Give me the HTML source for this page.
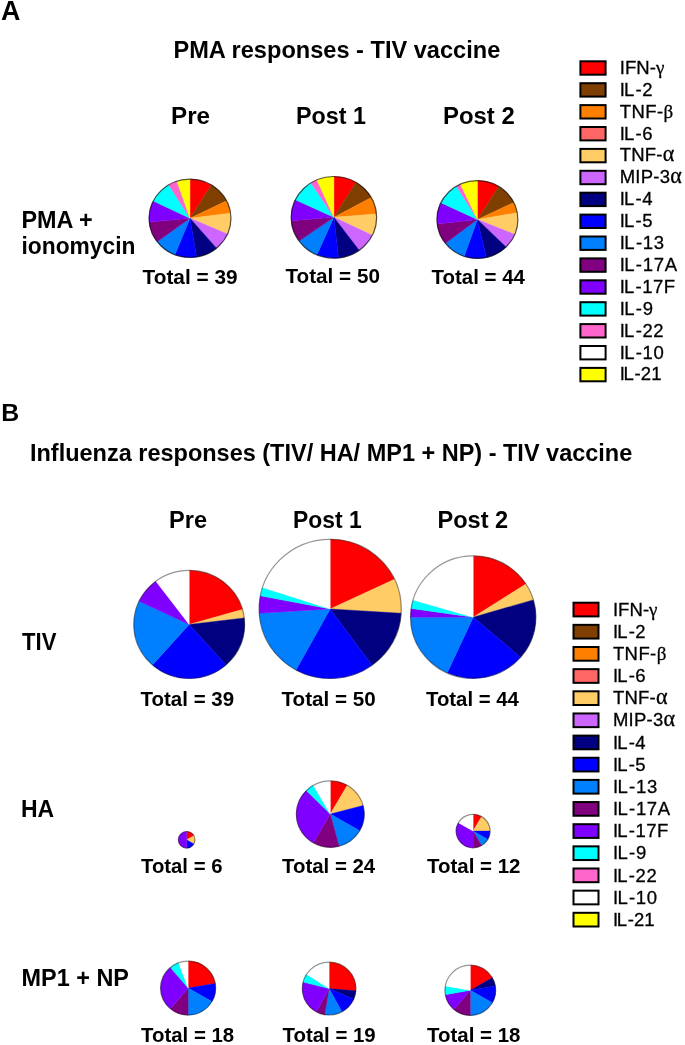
<!DOCTYPE html>
<html><head><meta charset="utf-8"><style>
html,body{margin:0;padding:0;background:#fff;}
svg{display:block;will-change:transform;}
text{font-family:"Liberation Sans",sans-serif;fill:#000;}
</style></head><body>
<svg width="685" height="1045" viewBox="0 0 685 1045">
<rect width="685" height="1045" fill="#fff"/>
<text x="1.0" y="19.8" font-size="26.8" font-weight="bold">A</text>
<text x="173.5" y="58.4" font-size="23.4" font-weight="bold" textLength="326.75" lengthAdjust="spacingAndGlyphs">PMA responses - TIV vaccine</text>
<text x="171.0" y="124.1" font-size="24.2" font-weight="bold" textLength="39.02" lengthAdjust="spacingAndGlyphs">Pre</text>
<text x="296.0" y="123.8" font-size="24.2" font-weight="bold" textLength="69.9" lengthAdjust="spacingAndGlyphs">Post 1</text>
<text x="443.0" y="123.8" font-size="24.2" font-weight="bold" textLength="71.77" lengthAdjust="spacingAndGlyphs">Post 2</text>
<text x="21.5" y="227.6" font-size="24.4" font-weight="bold" textLength="71.25" lengthAdjust="spacingAndGlyphs">PMA +</text>
<text x="21.5" y="253.5" font-size="24.4" font-weight="bold" textLength="113.91" lengthAdjust="spacingAndGlyphs">ionomycin</text>
<text x="142.5" y="283.6" font-size="20.5" font-weight="bold" textLength="95.05" lengthAdjust="spacingAndGlyphs">Total = 39</text>
<text x="285.5" y="282.8" font-size="20.5" font-weight="bold" textLength="94.44" lengthAdjust="spacingAndGlyphs">Total = 50</text>
<text x="431.5" y="283.8" font-size="20.5" font-weight="bold" textLength="93.43" lengthAdjust="spacingAndGlyphs">Total = 44</text>
<text x="1.25" y="421.0" font-size="24.8" font-weight="bold" textLength="17.95" lengthAdjust="spacingAndGlyphs">B</text>
<text x="30.0" y="461.3" font-size="24.0" font-weight="bold" textLength="602.25" lengthAdjust="spacingAndGlyphs">Influenza responses (TIV/ HA/ MP1 + NP) - TIV vaccine</text>
<text x="169.0" y="528.1" font-size="23" font-weight="bold" textLength="38.01" lengthAdjust="spacingAndGlyphs">Pre</text>
<text x="293.0" y="528.1" font-size="23" font-weight="bold" textLength="68.61" lengthAdjust="spacingAndGlyphs">Post 1</text>
<text x="437.5" y="528.1" font-size="23" font-weight="bold" textLength="70.7" lengthAdjust="spacingAndGlyphs">Post 2</text>
<text x="22.0" y="649.8" font-size="23.4" font-weight="bold" textLength="34.37" lengthAdjust="spacingAndGlyphs">TIV</text>
<text x="21.0" y="816.8" font-size="23.4" font-weight="bold" textLength="33.2" lengthAdjust="spacingAndGlyphs">HA</text>
<text x="21.5" y="985.8" font-size="23.4" font-weight="bold" textLength="107.46" lengthAdjust="spacingAndGlyphs">MP1 + NP</text>
<text x="140.5" y="705.9" font-size="20.2" font-weight="bold" textLength="93.6" lengthAdjust="spacingAndGlyphs">Total = 39</text>
<text x="281.5" y="705.8" font-size="20.2" font-weight="bold" textLength="94.22" lengthAdjust="spacingAndGlyphs">Total = 50</text>
<text x="426.0" y="705.9" font-size="20.2" font-weight="bold" textLength="92.79" lengthAdjust="spacingAndGlyphs">Total = 44</text>
<text x="141.0" y="873.1" font-size="20.2" font-weight="bold" textLength="81.43" lengthAdjust="spacingAndGlyphs">Total = 6</text>
<text x="282.0" y="872.8" font-size="20.2" font-weight="bold" textLength="93.19" lengthAdjust="spacingAndGlyphs">Total = 24</text>
<text x="427.0" y="872.8" font-size="20.2" font-weight="bold" textLength="93.39" lengthAdjust="spacingAndGlyphs">Total = 12</text>
<text x="141.0" y="1042.4" font-size="20.2" font-weight="bold" textLength="93.2" lengthAdjust="spacingAndGlyphs">Total = 18</text>
<text x="282.5" y="1042.1" font-size="20.2" font-weight="bold" textLength="93.21" lengthAdjust="spacingAndGlyphs">Total = 19</text>
<text x="427.0" y="1042.4" font-size="20.2" font-weight="bold" textLength="93.39" lengthAdjust="spacingAndGlyphs">Total = 18</text>
<rect x="580.4" y="61.30" width="25.2" height="13.4" fill="#FF0000" stroke="#000" stroke-width="2"/>
<text transform="translate(619.7,73.80) scale(1,1.04)" font-size="18.5" stroke="#000" stroke-width="0.3" letter-spacing="0.07">IFN-<tspan font-family="Liberation Serif" font-size="19">γ</tspan></text>
<rect x="580.4" y="83.20" width="25.2" height="13.4" fill="#7F3F00" stroke="#000" stroke-width="2"/>
<text transform="translate(619.7,95.70) scale(1,1.04)" font-size="18.5" stroke="#000" stroke-width="0.3" letter-spacing="0.5">I<tspan dx="-1.3">L</tspan><tspan dx="0.7">-2</tspan></text>
<rect x="580.4" y="105.10" width="25.2" height="13.4" fill="#FF8000" stroke="#000" stroke-width="2"/>
<text transform="translate(619.7,117.60) scale(1,1.04)" font-size="18.5" stroke="#000" stroke-width="0.3" letter-spacing="0.42">TNF-<tspan font-family="Liberation Serif" font-size="19">β</tspan></text>
<rect x="580.4" y="127.00" width="25.2" height="13.4" fill="#FF6666" stroke="#000" stroke-width="2"/>
<text transform="translate(619.7,139.50) scale(1,1.04)" font-size="18.5" stroke="#000" stroke-width="0.3" letter-spacing="0.5">I<tspan dx="-1.3">L</tspan><tspan dx="0.7">-6</tspan></text>
<rect x="580.4" y="148.90" width="25.2" height="13.4" fill="#FFCC66" stroke="#000" stroke-width="2"/>
<text transform="translate(619.7,161.40) scale(1,1.04)" font-size="18.5" stroke="#000" stroke-width="0.3" letter-spacing="0.23">TNF-<tspan font-family="Liberation Serif" font-size="22">α</tspan></text>
<rect x="580.4" y="170.80" width="25.2" height="13.4" fill="#CC66FF" stroke="#000" stroke-width="2"/>
<text transform="translate(619.7,183.30) scale(1,1.04)" font-size="18.5" stroke="#000" stroke-width="0.3" letter-spacing="0.24">MIP-3<tspan font-family="Liberation Serif" font-size="22">α</tspan></text>
<rect x="580.4" y="192.70" width="25.2" height="13.4" fill="#000080" stroke="#000" stroke-width="2"/>
<text transform="translate(619.7,205.20) scale(1,1.04)" font-size="18.5" stroke="#000" stroke-width="0.3" letter-spacing="0.5">I<tspan dx="-1.3">L</tspan><tspan dx="0.7">-4</tspan></text>
<rect x="580.4" y="214.60" width="25.2" height="13.4" fill="#0000FF" stroke="#000" stroke-width="2"/>
<text transform="translate(619.7,227.10) scale(1,1.04)" font-size="18.5" stroke="#000" stroke-width="0.3" letter-spacing="0.5">I<tspan dx="-1.3">L</tspan><tspan dx="0.7">-5</tspan></text>
<rect x="580.4" y="236.50" width="25.2" height="13.4" fill="#0080FF" stroke="#000" stroke-width="2"/>
<text transform="translate(619.7,249.00) scale(1,1.04)" font-size="18.5" stroke="#000" stroke-width="0.3" letter-spacing="0.7">I<tspan dx="-1.3">L</tspan><tspan dx="0.7">-13</tspan></text>
<rect x="580.4" y="258.40" width="25.2" height="13.4" fill="#800080" stroke="#000" stroke-width="2"/>
<text transform="translate(619.7,270.90) scale(1,1.04)" font-size="18.5" stroke="#000" stroke-width="0.3" letter-spacing="0.68">I<tspan dx="-1.3">L</tspan><tspan dx="0.7">-17A</tspan></text>
<rect x="580.4" y="280.30" width="25.2" height="13.4" fill="#8000FF" stroke="#000" stroke-width="2"/>
<text transform="translate(619.7,292.80) scale(1,1.04)" font-size="18.5" stroke="#000" stroke-width="0.3" letter-spacing="0.52">I<tspan dx="-1.3">L</tspan><tspan dx="0.7">-17F</tspan></text>
<rect x="580.4" y="302.20" width="25.2" height="13.4" fill="#00FFFF" stroke="#000" stroke-width="2"/>
<text transform="translate(619.7,314.70) scale(1,1.04)" font-size="18.5" stroke="#000" stroke-width="0.3" letter-spacing="0.67">I<tspan dx="-1.3">L</tspan><tspan dx="0.7">-9</tspan></text>
<rect x="580.4" y="324.10" width="25.2" height="13.4" fill="#FF66CC" stroke="#000" stroke-width="2"/>
<text transform="translate(619.7,336.60) scale(1,1.04)" font-size="18.5" stroke="#000" stroke-width="0.3" letter-spacing="0.57">I<tspan dx="-1.3">L</tspan><tspan dx="0.7">-22</tspan></text>
<rect x="580.4" y="346.00" width="25.2" height="13.4" fill="#FFFFFF" stroke="#000" stroke-width="2"/>
<text transform="translate(619.7,358.50) scale(1,1.04)" font-size="18.5" stroke="#000" stroke-width="0.3" letter-spacing="0.65">I<tspan dx="-1.3">L</tspan><tspan dx="0.7">-10</tspan></text>
<rect x="580.4" y="367.90" width="25.2" height="13.4" fill="#FFFF00" stroke="#000" stroke-width="2"/>
<text transform="translate(619.7,380.40) scale(1,1.04)" font-size="18.5" stroke="#000" stroke-width="0.3" letter-spacing="0.05">I<tspan dx="-1.3">L</tspan><tspan dx="0.7">-21</tspan></text>
<rect x="573.5" y="602.70" width="25.0" height="13.7" fill="#FF0000" stroke="#000" stroke-width="2"/>
<text transform="translate(612.9,615.70) scale(1,1.04)" font-size="18.5" stroke="#000" stroke-width="0.3" letter-spacing="0.07">IFN-<tspan font-family="Liberation Serif" font-size="19">γ</tspan></text>
<rect x="573.5" y="624.85" width="25.0" height="13.7" fill="#7F3F00" stroke="#000" stroke-width="2"/>
<text transform="translate(612.9,637.85) scale(1,1.04)" font-size="18.5" stroke="#000" stroke-width="0.3" letter-spacing="0.5">I<tspan dx="-1.3">L</tspan><tspan dx="0.7">-2</tspan></text>
<rect x="573.5" y="647.00" width="25.0" height="13.7" fill="#FF8000" stroke="#000" stroke-width="2"/>
<text transform="translate(612.9,660.00) scale(1,1.04)" font-size="18.5" stroke="#000" stroke-width="0.3" letter-spacing="0.42">TNF-<tspan font-family="Liberation Serif" font-size="19">β</tspan></text>
<rect x="573.5" y="669.15" width="25.0" height="13.7" fill="#FF6666" stroke="#000" stroke-width="2"/>
<text transform="translate(612.9,682.15) scale(1,1.04)" font-size="18.5" stroke="#000" stroke-width="0.3" letter-spacing="0.5">I<tspan dx="-1.3">L</tspan><tspan dx="0.7">-6</tspan></text>
<rect x="573.5" y="691.30" width="25.0" height="13.7" fill="#FFCC66" stroke="#000" stroke-width="2"/>
<text transform="translate(612.9,704.30) scale(1,1.04)" font-size="18.5" stroke="#000" stroke-width="0.3" letter-spacing="0.23">TNF-<tspan font-family="Liberation Serif" font-size="22">α</tspan></text>
<rect x="573.5" y="713.45" width="25.0" height="13.7" fill="#CC66FF" stroke="#000" stroke-width="2"/>
<text transform="translate(612.9,726.45) scale(1,1.04)" font-size="18.5" stroke="#000" stroke-width="0.3" letter-spacing="0.24">MIP-3<tspan font-family="Liberation Serif" font-size="22">α</tspan></text>
<rect x="573.5" y="735.60" width="25.0" height="13.7" fill="#000080" stroke="#000" stroke-width="2"/>
<text transform="translate(612.9,748.60) scale(1,1.04)" font-size="18.5" stroke="#000" stroke-width="0.3" letter-spacing="0.5">I<tspan dx="-1.3">L</tspan><tspan dx="0.7">-4</tspan></text>
<rect x="573.5" y="757.75" width="25.0" height="13.7" fill="#0000FF" stroke="#000" stroke-width="2"/>
<text transform="translate(612.9,770.75) scale(1,1.04)" font-size="18.5" stroke="#000" stroke-width="0.3" letter-spacing="0.5">I<tspan dx="-1.3">L</tspan><tspan dx="0.7">-5</tspan></text>
<rect x="573.5" y="779.90" width="25.0" height="13.7" fill="#0080FF" stroke="#000" stroke-width="2"/>
<text transform="translate(612.9,792.90) scale(1,1.04)" font-size="18.5" stroke="#000" stroke-width="0.3" letter-spacing="0.7">I<tspan dx="-1.3">L</tspan><tspan dx="0.7">-13</tspan></text>
<rect x="573.5" y="802.05" width="25.0" height="13.7" fill="#800080" stroke="#000" stroke-width="2"/>
<text transform="translate(612.9,815.05) scale(1,1.04)" font-size="18.5" stroke="#000" stroke-width="0.3" letter-spacing="0.68">I<tspan dx="-1.3">L</tspan><tspan dx="0.7">-17A</tspan></text>
<rect x="573.5" y="824.20" width="25.0" height="13.7" fill="#8000FF" stroke="#000" stroke-width="2"/>
<text transform="translate(612.9,837.20) scale(1,1.04)" font-size="18.5" stroke="#000" stroke-width="0.3" letter-spacing="0.52">I<tspan dx="-1.3">L</tspan><tspan dx="0.7">-17F</tspan></text>
<rect x="573.5" y="846.35" width="25.0" height="13.7" fill="#00FFFF" stroke="#000" stroke-width="2"/>
<text transform="translate(612.9,859.35) scale(1,1.04)" font-size="18.5" stroke="#000" stroke-width="0.3" letter-spacing="0.67">I<tspan dx="-1.3">L</tspan><tspan dx="0.7">-9</tspan></text>
<rect x="573.5" y="868.50" width="25.0" height="13.7" fill="#FF66CC" stroke="#000" stroke-width="2"/>
<text transform="translate(612.9,881.50) scale(1,1.04)" font-size="18.5" stroke="#000" stroke-width="0.3" letter-spacing="0.57">I<tspan dx="-1.3">L</tspan><tspan dx="0.7">-22</tspan></text>
<rect x="573.5" y="890.65" width="25.0" height="13.7" fill="#FFFFFF" stroke="#000" stroke-width="2"/>
<text transform="translate(612.9,903.65) scale(1,1.04)" font-size="18.5" stroke="#000" stroke-width="0.3" letter-spacing="0.65">I<tspan dx="-1.3">L</tspan><tspan dx="0.7">-10</tspan></text>
<rect x="573.5" y="912.80" width="25.0" height="13.7" fill="#FFFF00" stroke="#000" stroke-width="2"/>
<text transform="translate(612.9,925.80) scale(1,1.04)" font-size="18.5" stroke="#000" stroke-width="0.3" letter-spacing="0.05">I<tspan dx="-1.3">L</tspan><tspan dx="0.7">-21</tspan></text>
<path d="M190.00,218.35L190.00,179.20A40.95,39.15 0 0 1 211.36,184.95Z" fill="#FF0000" stroke="#FF0000" stroke-width="0.4" stroke-linejoin="round"/>
<path d="M190.00,218.35L211.36,184.95A40.95,39.15 0 0 1 226.64,200.87Z" fill="#7F3F00" stroke="#7F3F00" stroke-width="0.4" stroke-linejoin="round"/>
<path d="M190.00,218.35L226.64,200.87A40.95,39.15 0 0 1 230.59,213.15Z" fill="#FF8000" stroke="#FF8000" stroke-width="0.4" stroke-linejoin="round"/>
<path d="M190.00,218.35L230.59,213.15A40.95,39.15 0 0 1 227.49,234.11Z" fill="#FFCC66" stroke="#FFCC66" stroke-width="0.4" stroke-linejoin="round"/>
<path d="M190.00,218.35L227.49,234.11A40.95,39.15 0 0 1 216.50,248.20Z" fill="#CC66FF" stroke="#CC66FF" stroke-width="0.4" stroke-linejoin="round"/>
<path d="M190.00,218.35L216.50,248.20A40.95,39.15 0 0 1 196.60,256.99Z" fill="#000080" stroke="#000080" stroke-width="0.4" stroke-linejoin="round"/>
<path d="M190.00,218.35L196.60,256.99A40.95,39.15 0 0 1 174.86,254.73Z" fill="#0000FF" stroke="#0000FF" stroke-width="0.4" stroke-linejoin="round"/>
<path d="M190.00,218.35L174.86,254.73A40.95,39.15 0 0 1 157.09,241.65Z" fill="#0080FF" stroke="#0080FF" stroke-width="0.4" stroke-linejoin="round"/>
<path d="M190.00,218.35L157.09,241.65A40.95,39.15 0 0 1 149.23,222.06Z" fill="#800080" stroke="#800080" stroke-width="0.4" stroke-linejoin="round"/>
<path d="M190.00,218.35L149.23,222.06A40.95,39.15 0 0 1 153.29,201.00Z" fill="#8000FF" stroke="#8000FF" stroke-width="0.4" stroke-linejoin="round"/>
<path d="M190.00,218.35L153.29,201.00A40.95,39.15 0 0 1 168.76,184.88Z" fill="#00FFFF" stroke="#00FFFF" stroke-width="0.4" stroke-linejoin="round"/>
<path d="M190.00,218.35L168.76,184.88A40.95,39.15 0 0 1 177.00,181.23Z" fill="#FF66CC" stroke="#FF66CC" stroke-width="0.4" stroke-linejoin="round"/>
<path d="M190.00,218.35L177.00,181.23A40.95,39.15 0 0 1 190.00,179.20Z" fill="#FFFF00" stroke="#FFFF00" stroke-width="0.4" stroke-linejoin="round"/>
<ellipse cx="190.00" cy="218.35" rx="40.95" ry="39.15" fill="none" stroke="#000" stroke-opacity="0.65" stroke-width="1.2"/>
<path d="M333.90,217.35L333.90,176.50A42.75,40.85 0 0 1 355.94,182.35Z" fill="#FF0000" stroke="#FF0000" stroke-width="0.4" stroke-linejoin="round"/>
<path d="M333.90,217.35L355.94,182.35A42.75,40.85 0 0 1 371.26,197.49Z" fill="#7F3F00" stroke="#7F3F00" stroke-width="0.4" stroke-linejoin="round"/>
<path d="M333.90,217.35L371.26,197.49A42.75,40.85 0 0 1 376.50,213.92Z" fill="#FF8000" stroke="#FF8000" stroke-width="0.4" stroke-linejoin="round"/>
<path d="M333.90,217.35L376.50,213.92A42.75,40.85 0 0 1 372.29,235.33Z" fill="#FFCC66" stroke="#FFCC66" stroke-width="0.4" stroke-linejoin="round"/>
<path d="M333.90,217.35L372.29,235.33A42.75,40.85 0 0 1 359.12,250.33Z" fill="#CC66FF" stroke="#CC66FF" stroke-width="0.4" stroke-linejoin="round"/>
<path d="M333.90,217.35L359.12,250.33A42.75,40.85 0 0 1 338.53,257.96Z" fill="#000080" stroke="#000080" stroke-width="0.4" stroke-linejoin="round"/>
<path d="M333.90,217.35L338.53,257.96A42.75,40.85 0 0 1 316.90,254.83Z" fill="#0000FF" stroke="#0000FF" stroke-width="0.4" stroke-linejoin="round"/>
<path d="M333.90,217.35L316.90,254.83A42.75,40.85 0 0 1 299.06,241.03Z" fill="#0080FF" stroke="#0080FF" stroke-width="0.4" stroke-linejoin="round"/>
<path d="M333.90,217.35L299.06,241.03A42.75,40.85 0 0 1 291.29,220.70Z" fill="#800080" stroke="#800080" stroke-width="0.4" stroke-linejoin="round"/>
<path d="M333.90,217.35L291.29,220.70A42.75,40.85 0 0 1 295.28,199.83Z" fill="#8000FF" stroke="#8000FF" stroke-width="0.4" stroke-linejoin="round"/>
<path d="M333.90,217.35L295.28,199.83A42.75,40.85 0 0 1 310.93,182.90Z" fill="#00FFFF" stroke="#00FFFF" stroke-width="0.4" stroke-linejoin="round"/>
<path d="M333.90,217.35L310.93,182.90A42.75,40.85 0 0 1 316.90,179.87Z" fill="#FF66CC" stroke="#FF66CC" stroke-width="0.4" stroke-linejoin="round"/>
<path d="M333.90,217.35L316.90,179.87A42.75,40.85 0 0 1 333.90,176.50Z" fill="#FFFF00" stroke="#FFFF00" stroke-width="0.4" stroke-linejoin="round"/>
<ellipse cx="333.90" cy="217.35" rx="42.75" ry="40.85" fill="none" stroke="#000" stroke-opacity="0.65" stroke-width="1.2"/>
<path d="M477.40,219.50L477.40,180.60A40.45,38.90 0 0 1 498.71,186.44Z" fill="#FF0000" stroke="#FF0000" stroke-width="0.4" stroke-linejoin="round"/>
<path d="M477.40,219.50L498.71,186.44A40.45,38.90 0 0 1 513.77,202.47Z" fill="#7F3F00" stroke="#7F3F00" stroke-width="0.4" stroke-linejoin="round"/>
<path d="M477.40,219.50L513.77,202.47A40.45,38.90 0 0 1 517.25,212.83Z" fill="#FF8000" stroke="#FF8000" stroke-width="0.4" stroke-linejoin="round"/>
<path d="M477.40,219.50L517.25,212.83A40.45,38.90 0 0 1 514.75,234.44Z" fill="#FFCC66" stroke="#FFCC66" stroke-width="0.4" stroke-linejoin="round"/>
<path d="M477.40,219.50L514.75,234.44A40.45,38.90 0 0 1 506.04,246.97Z" fill="#CC66FF" stroke="#CC66FF" stroke-width="0.4" stroke-linejoin="round"/>
<path d="M477.40,219.50L506.04,246.97A40.45,38.90 0 0 1 486.17,257.48Z" fill="#000080" stroke="#000080" stroke-width="0.4" stroke-linejoin="round"/>
<path d="M477.40,219.50L486.17,257.48A40.45,38.90 0 0 1 464.17,256.26Z" fill="#0000FF" stroke="#0000FF" stroke-width="0.4" stroke-linejoin="round"/>
<path d="M477.40,219.50L464.17,256.26A40.45,38.90 0 0 1 445.43,243.33Z" fill="#0080FF" stroke="#0080FF" stroke-width="0.4" stroke-linejoin="round"/>
<path d="M477.40,219.50L445.43,243.33A40.45,38.90 0 0 1 437.21,223.94Z" fill="#800080" stroke="#800080" stroke-width="0.4" stroke-linejoin="round"/>
<path d="M477.40,219.50L437.21,223.94A40.45,38.90 0 0 1 440.88,202.78Z" fill="#8000FF" stroke="#8000FF" stroke-width="0.4" stroke-linejoin="round"/>
<path d="M477.40,219.50L440.88,202.78A40.45,38.90 0 0 1 456.39,186.26Z" fill="#00FFFF" stroke="#00FFFF" stroke-width="0.4" stroke-linejoin="round"/>
<path d="M477.40,219.50L456.39,186.26A40.45,38.90 0 0 1 460.47,184.17Z" fill="#FF66CC" stroke="#FF66CC" stroke-width="0.4" stroke-linejoin="round"/>
<path d="M477.40,219.50L460.47,184.17A40.45,38.90 0 0 1 477.40,180.60Z" fill="#FFFF00" stroke="#FFFF00" stroke-width="0.4" stroke-linejoin="round"/>
<ellipse cx="477.40" cy="219.50" rx="40.45" ry="38.90" fill="none" stroke="#000" stroke-opacity="0.65" stroke-width="1.2"/>
<path d="M189.20,624.45L189.20,570.40A55.40,54.05 0 0 1 242.41,609.41Z" fill="#FF0000" stroke="#FF0000" stroke-width="0.4" stroke-linejoin="round"/>
<path d="M189.20,624.45L242.41,609.41A55.40,54.05 0 0 1 244.20,617.93Z" fill="#FFCC66" stroke="#FFCC66" stroke-width="0.4" stroke-linejoin="round"/>
<path d="M189.20,624.45L244.20,617.93A55.40,54.05 0 0 1 225.94,664.91Z" fill="#000080" stroke="#000080" stroke-width="0.4" stroke-linejoin="round"/>
<path d="M189.20,624.45L225.94,664.91A55.40,54.05 0 0 1 152.46,664.91Z" fill="#0000FF" stroke="#0000FF" stroke-width="0.4" stroke-linejoin="round"/>
<path d="M189.20,624.45L152.46,664.91A55.40,54.05 0 0 1 139.15,601.28Z" fill="#0080FF" stroke="#0080FF" stroke-width="0.4" stroke-linejoin="round"/>
<path d="M189.20,624.45L139.15,601.28A55.40,54.05 0 0 1 155.92,581.24Z" fill="#8000FF" stroke="#8000FF" stroke-width="0.4" stroke-linejoin="round"/>
<path d="M189.20,624.45L155.92,581.24A55.40,54.05 0 0 1 189.20,570.40Z" fill="#FFFFFF" stroke="#FFFFFF" stroke-width="0.4" stroke-linejoin="round"/>
<ellipse cx="189.20" cy="624.45" rx="55.40" ry="54.05" fill="none" stroke="#000" stroke-opacity="0.42" stroke-width="1.2"/>
<path d="M330.20,608.90L330.20,539.30A71.05,69.60 0 0 1 394.49,579.27Z" fill="#FF0000" stroke="#FF0000" stroke-width="0.4" stroke-linejoin="round"/>
<path d="M330.20,608.90L394.49,579.27A71.05,69.60 0 0 1 401.11,613.27Z" fill="#FFCC66" stroke="#FFCC66" stroke-width="0.4" stroke-linejoin="round"/>
<path d="M330.20,608.90L401.11,613.27A71.05,69.60 0 0 1 371.96,665.21Z" fill="#000080" stroke="#000080" stroke-width="0.4" stroke-linejoin="round"/>
<path d="M330.20,608.90L371.96,665.21A71.05,69.60 0 0 1 295.97,669.89Z" fill="#0000FF" stroke="#0000FF" stroke-width="0.4" stroke-linejoin="round"/>
<path d="M330.20,608.90L295.97,669.89A71.05,69.60 0 0 1 259.29,613.27Z" fill="#0080FF" stroke="#0080FF" stroke-width="0.4" stroke-linejoin="round"/>
<path d="M330.20,608.90L259.29,613.27A71.05,69.60 0 0 1 260.41,595.86Z" fill="#8000FF" stroke="#8000FF" stroke-width="0.4" stroke-linejoin="round"/>
<path d="M330.20,608.90L260.41,595.86A71.05,69.60 0 0 1 262.63,587.39Z" fill="#00FFFF" stroke="#00FFFF" stroke-width="0.4" stroke-linejoin="round"/>
<path d="M330.20,608.90L262.63,587.39A71.05,69.60 0 0 1 330.20,539.30Z" fill="#FFFFFF" stroke="#FFFFFF" stroke-width="0.4" stroke-linejoin="round"/>
<ellipse cx="330.20" cy="608.90" rx="71.05" ry="69.60" fill="none" stroke="#000" stroke-opacity="0.42" stroke-width="1.2"/>
<path d="M473.20,617.15L473.20,555.90A62.60,61.25 0 0 1 525.86,584.04Z" fill="#FF0000" stroke="#FF0000" stroke-width="0.4" stroke-linejoin="round"/>
<path d="M473.20,617.15L525.86,584.04A62.60,61.25 0 0 1 533.26,599.89Z" fill="#FFCC66" stroke="#FFCC66" stroke-width="0.4" stroke-linejoin="round"/>
<path d="M473.20,617.15L533.26,599.89A62.60,61.25 0 0 1 520.51,657.26Z" fill="#000080" stroke="#000080" stroke-width="0.4" stroke-linejoin="round"/>
<path d="M473.20,617.15L520.51,657.26A62.60,61.25 0 0 1 447.20,672.86Z" fill="#0000FF" stroke="#0000FF" stroke-width="0.4" stroke-linejoin="round"/>
<path d="M473.20,617.15L447.20,672.86A62.60,61.25 0 0 1 410.60,617.15Z" fill="#0080FF" stroke="#0080FF" stroke-width="0.4" stroke-linejoin="round"/>
<path d="M473.20,617.15L410.60,617.15A62.60,61.25 0 0 1 411.24,608.43Z" fill="#8000FF" stroke="#8000FF" stroke-width="0.4" stroke-linejoin="round"/>
<path d="M473.20,617.15L411.24,608.43A62.60,61.25 0 0 1 413.14,599.89Z" fill="#00FFFF" stroke="#00FFFF" stroke-width="0.4" stroke-linejoin="round"/>
<path d="M473.20,617.15L413.14,599.89A62.60,61.25 0 0 1 473.20,555.90Z" fill="#FFFFFF" stroke="#FFFFFF" stroke-width="0.4" stroke-linejoin="round"/>
<ellipse cx="473.20" cy="617.15" rx="62.60" ry="61.25" fill="none" stroke="#000" stroke-opacity="0.42" stroke-width="1.2"/>
<path d="M186.65,839.80L186.65,831.50A8.30,8.30 0 0 1 193.84,835.65Z" fill="#FF0000" stroke="#FF0000" stroke-width="0.4" stroke-linejoin="round"/>
<path d="M186.65,839.80L193.84,835.65A8.30,8.30 0 0 1 193.84,843.95Z" fill="#FFCC66" stroke="#FFCC66" stroke-width="0.4" stroke-linejoin="round"/>
<path d="M186.65,839.80L193.84,843.95A8.30,8.30 0 0 1 186.65,848.10Z" fill="#0000FF" stroke="#0000FF" stroke-width="0.4" stroke-linejoin="round"/>
<path d="M186.65,839.80L186.65,848.10A8.30,8.30 0 0 1 186.65,831.50Z" fill="#8000FF" stroke="#8000FF" stroke-width="0.4" stroke-linejoin="round"/>
<ellipse cx="186.65" cy="839.80" rx="8.30" ry="8.30" fill="none" stroke="#000" stroke-opacity="0.42" stroke-width="1.2"/>
<path d="M330.30,814.10L330.30,780.90A33.95,33.20 0 0 1 347.28,785.35Z" fill="#FF0000" stroke="#FF0000" stroke-width="0.4" stroke-linejoin="round"/>
<path d="M330.30,814.10L347.28,785.35A33.95,33.20 0 0 1 363.09,805.51Z" fill="#FFCC66" stroke="#FFCC66" stroke-width="0.4" stroke-linejoin="round"/>
<path d="M330.30,814.10L363.09,805.51A33.95,33.20 0 0 1 359.70,830.70Z" fill="#0000FF" stroke="#0000FF" stroke-width="0.4" stroke-linejoin="round"/>
<path d="M330.30,814.10L359.70,830.70A33.95,33.20 0 0 1 339.09,846.17Z" fill="#0080FF" stroke="#0080FF" stroke-width="0.4" stroke-linejoin="round"/>
<path d="M330.30,814.10L339.09,846.17A33.95,33.20 0 0 1 313.32,842.85Z" fill="#800080" stroke="#800080" stroke-width="0.4" stroke-linejoin="round"/>
<path d="M330.30,814.10L313.32,842.85A33.95,33.20 0 0 1 306.29,790.62Z" fill="#8000FF" stroke="#8000FF" stroke-width="0.4" stroke-linejoin="round"/>
<path d="M330.30,814.10L306.29,790.62A33.95,33.20 0 0 1 313.32,785.35Z" fill="#00FFFF" stroke="#00FFFF" stroke-width="0.4" stroke-linejoin="round"/>
<path d="M330.30,814.10L313.32,785.35A33.95,33.20 0 0 1 330.30,780.90Z" fill="#FFFFFF" stroke="#FFFFFF" stroke-width="0.4" stroke-linejoin="round"/>
<ellipse cx="330.30" cy="814.10" rx="33.95" ry="33.20" fill="none" stroke="#000" stroke-opacity="0.42" stroke-width="1.2"/>
<path d="M473.10,831.10L473.10,814.40A16.95,16.70 0 0 1 481.58,816.64Z" fill="#FF0000" stroke="#FF0000" stroke-width="0.4" stroke-linejoin="round"/>
<path d="M473.10,831.10L481.58,816.64A16.95,16.70 0 0 1 490.05,831.10Z" fill="#FFCC66" stroke="#FFCC66" stroke-width="0.4" stroke-linejoin="round"/>
<path d="M473.10,831.10L490.05,831.10A16.95,16.70 0 0 1 487.78,839.45Z" fill="#0000FF" stroke="#0000FF" stroke-width="0.4" stroke-linejoin="round"/>
<path d="M473.10,831.10L487.78,839.45A16.95,16.70 0 0 1 481.58,845.56Z" fill="#0080FF" stroke="#0080FF" stroke-width="0.4" stroke-linejoin="round"/>
<path d="M473.10,831.10L481.58,845.56A16.95,16.70 0 0 1 473.10,847.80Z" fill="#800080" stroke="#800080" stroke-width="0.4" stroke-linejoin="round"/>
<path d="M473.10,831.10L473.10,847.80A16.95,16.70 0 0 1 458.42,822.75Z" fill="#8000FF" stroke="#8000FF" stroke-width="0.4" stroke-linejoin="round"/>
<path d="M473.10,831.10L458.42,822.75A16.95,16.70 0 0 1 473.10,814.40Z" fill="#FFFFFF" stroke="#FFFFFF" stroke-width="0.4" stroke-linejoin="round"/>
<ellipse cx="473.10" cy="831.10" rx="16.95" ry="16.70" fill="none" stroke="#000" stroke-opacity="0.42" stroke-width="1.2"/>
<path d="M188.10,988.10L188.10,961.10A27.50,27.00 0 0 1 215.18,983.41Z" fill="#FF0000" stroke="#FF0000" stroke-width="0.4" stroke-linejoin="round"/>
<path d="M188.10,988.10L215.18,983.41A27.50,27.00 0 0 1 211.92,1001.60Z" fill="#0000FF" stroke="#0000FF" stroke-width="0.4" stroke-linejoin="round"/>
<path d="M188.10,988.10L211.92,1001.60A27.50,27.00 0 0 1 188.10,1015.10Z" fill="#0080FF" stroke="#0080FF" stroke-width="0.4" stroke-linejoin="round"/>
<path d="M188.10,988.10L188.10,1015.10A27.50,27.00 0 0 1 170.42,1008.78Z" fill="#800080" stroke="#800080" stroke-width="0.4" stroke-linejoin="round"/>
<path d="M188.10,988.10L170.42,1008.78A27.50,27.00 0 0 1 170.42,967.42Z" fill="#8000FF" stroke="#8000FF" stroke-width="0.4" stroke-linejoin="round"/>
<path d="M188.10,988.10L170.42,967.42A27.50,27.00 0 0 1 178.69,962.73Z" fill="#00FFFF" stroke="#00FFFF" stroke-width="0.4" stroke-linejoin="round"/>
<path d="M188.10,988.10L178.69,962.73A27.50,27.00 0 0 1 188.10,961.10Z" fill="#FFFFFF" stroke="#FFFFFF" stroke-width="0.4" stroke-linejoin="round"/>
<ellipse cx="188.10" cy="988.10" rx="27.50" ry="27.00" fill="none" stroke="#000" stroke-opacity="0.42" stroke-width="1.2"/>
<path d="M329.10,988.60L329.10,962.20A26.80,26.40 0 0 1 355.81,990.78Z" fill="#FF0000" stroke="#FF0000" stroke-width="0.4" stroke-linejoin="round"/>
<path d="M329.10,988.60L355.81,990.78A26.80,26.40 0 0 1 353.64,999.20Z" fill="#000080" stroke="#000080" stroke-width="0.4" stroke-linejoin="round"/>
<path d="M329.10,988.60L353.64,999.20A26.80,26.40 0 0 1 341.86,1011.82Z" fill="#0000FF" stroke="#0000FF" stroke-width="0.4" stroke-linejoin="round"/>
<path d="M329.10,988.60L341.86,1011.82A26.80,26.40 0 0 1 324.69,1014.64Z" fill="#0080FF" stroke="#0080FF" stroke-width="0.4" stroke-linejoin="round"/>
<path d="M329.10,988.60L324.69,1014.64A26.80,26.40 0 0 1 316.34,1011.82Z" fill="#800080" stroke="#800080" stroke-width="0.4" stroke-linejoin="round"/>
<path d="M329.10,988.60L316.34,1011.82A26.80,26.40 0 0 1 303.12,982.12Z" fill="#8000FF" stroke="#8000FF" stroke-width="0.4" stroke-linejoin="round"/>
<path d="M329.10,988.60L303.12,982.12A26.80,26.40 0 0 1 306.66,974.16Z" fill="#00FFFF" stroke="#00FFFF" stroke-width="0.4" stroke-linejoin="round"/>
<path d="M329.10,988.60L306.66,974.16A26.80,26.40 0 0 1 329.10,962.20Z" fill="#FFFFFF" stroke="#FFFFFF" stroke-width="0.4" stroke-linejoin="round"/>
<ellipse cx="329.10" cy="988.60" rx="26.80" ry="26.40" fill="none" stroke="#000" stroke-opacity="0.42" stroke-width="1.2"/>
<path d="M470.30,990.30L470.30,965.20A25.35,25.10 0 0 1 492.25,977.75Z" fill="#FF0000" stroke="#FF0000" stroke-width="0.4" stroke-linejoin="round"/>
<path d="M470.30,990.30L492.25,977.75A25.35,25.10 0 0 1 495.26,985.94Z" fill="#000080" stroke="#000080" stroke-width="0.4" stroke-linejoin="round"/>
<path d="M470.30,990.30L495.26,985.94A25.35,25.10 0 0 1 492.25,1002.85Z" fill="#0000FF" stroke="#0000FF" stroke-width="0.4" stroke-linejoin="round"/>
<path d="M470.30,990.30L492.25,1002.85A25.35,25.10 0 0 1 470.30,1015.40Z" fill="#0080FF" stroke="#0080FF" stroke-width="0.4" stroke-linejoin="round"/>
<path d="M470.30,990.30L470.30,1015.40A25.35,25.10 0 0 1 454.01,1009.53Z" fill="#800080" stroke="#800080" stroke-width="0.4" stroke-linejoin="round"/>
<path d="M470.30,990.30L454.01,1009.53A25.35,25.10 0 0 1 445.34,994.66Z" fill="#8000FF" stroke="#8000FF" stroke-width="0.4" stroke-linejoin="round"/>
<path d="M470.30,990.30L445.34,994.66A25.35,25.10 0 0 1 445.34,985.94Z" fill="#00FFFF" stroke="#00FFFF" stroke-width="0.4" stroke-linejoin="round"/>
<path d="M470.30,990.30L445.34,985.94A25.35,25.10 0 0 1 470.30,965.20Z" fill="#FFFFFF" stroke="#FFFFFF" stroke-width="0.4" stroke-linejoin="round"/>
<ellipse cx="470.30" cy="990.30" rx="25.35" ry="25.10" fill="none" stroke="#000" stroke-opacity="0.42" stroke-width="1.2"/>
</svg>
</body></html>
